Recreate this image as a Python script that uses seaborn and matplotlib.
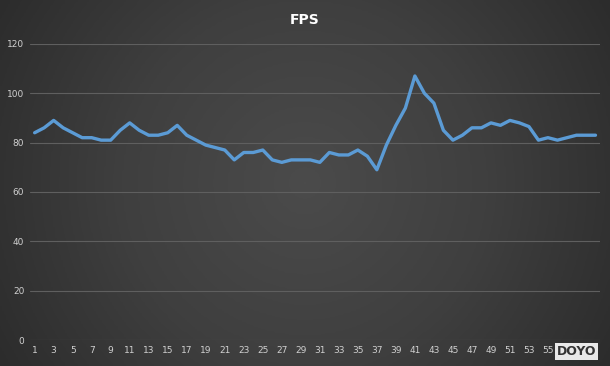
import numpy as np
import pandas as pd
import matplotlib
matplotlib.use("Agg")
import matplotlib.pyplot as plt
from matplotlib.colors import LinearSegmentedColormap
import seaborn as sns

# frame index and measured fps
frames = list(range(1, 61))
fps = [84, 86, 89, 86, 84, 82, 82, 81, 81, 85,
       88, 85, 83, 83, 84, 87, 83, 81, 79, 78,
       77, 73, 76, 76, 77, 73, 72, 73, 73, 73,
       72, 76, 75, 75, 77, 74.5, 69, 79, 87, 94,
       107, 100, 96, 85, 81, 83, 86, 86, 88, 87,
       89, 88, 86.5, 81, 82, 81, 82, 83, 83, 83]
y_ticks = [0, 20, 40, 60, 80, 100, 120]

df = pd.DataFrame({"frame": frames, "fps": fps})

sns.set_style("white")
fig = plt.figure(figsize=(6.1, 3.66), dpi=100)

# dark radial gradient background, lighter in the middle
bg = fig.add_axes([0, 0, 1, 1], zorder=0)
yy, xx = np.mgrid[-1:1:200j, -1:1:300j]
r = np.sqrt(xx ** 2 + (yy * 0.6) ** 2)
cmap = LinearSegmentedColormap.from_list("bg", ["#4b4b4b", "#3f3f3f", "#2b2b2b"])
bg.imshow(np.clip(r, 0, 1.2), cmap=cmap, vmin=0, vmax=1.2,
          aspect="auto", extent=[0, 1, 0, 1])
bg.axis("off")

ax = fig.add_axes([0.049, 0.071, 0.935, 0.809], zorder=1)
ax.patch.set_alpha(0)
sns.lineplot(data=df, x="frame", y="fps", ax=ax, color="#5b9bd5",
             linewidth=2.4, solid_joinstyle="round")

ax.set_xlim(0.5, 60.5)
ax.set_ylim(0, 120)
ax.set_yticks(y_ticks)
ax.set_xticks(frames[::2])
ax.grid(axis="y", color="#5f5f5f", linewidth=0.8)
ax.set_axisbelow(True)
for s in ax.spines.values():
    s.set_visible(False)
ax.tick_params(colors="#d0d0d0", labelsize=6.5, length=0, pad=4)
ax.set_xlabel("")
ax.set_ylabel("")

fig.text(0.5, 0.945, "FPS", color="white", fontsize=10, fontweight="bold",
         ha="center", va="center")

# watermark
fig.text(0.945, 0.04, "DOYO", color="#333333", fontsize=9, fontweight="bold",
         ha="center", va="center", zorder=5,
         bbox=dict(facecolor="#e8e8e8", edgecolor="none", pad=1.5))

fig.savefig("out.png", dpi=100)
